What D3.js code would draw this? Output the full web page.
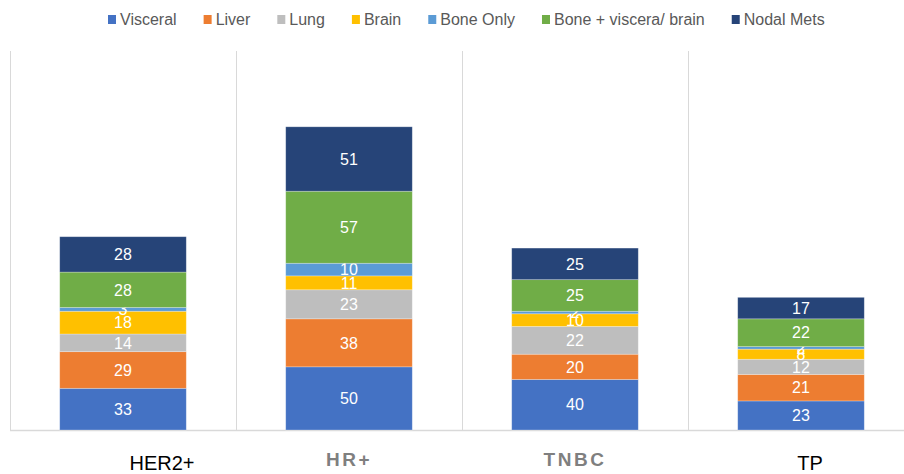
<!DOCTYPE html>
<html>
<head>
<meta charset="utf-8">
<script src="https://cdn.jsdelivr.net/npm/d3@7"></script>
<style>
  body { margin: 0; background: #fff; }
  svg { display: block; }
</style>
</head>
<body>
<script>
var categories = ["HER2+", "HR+", "TNBC", "TP"];
var seriesNames = ["Visceral", "Liver", "Lung", "Brain", "Bone Only", "Bone + viscera/ brain", "Nodal Mets"];
var seriesColors = ["#4472C4", "#ED7D31", "#BEBEBE", "#FFC000", "#5B9BD5", "#70AD47", "#264478"];

var visceral = [33, 50, 40, 23];
var liver = [29, 38, 20, 21];
var lung = [14, 23, 22, 12];
var brain = [18, 11, 10, 8];
var boneOnly = [3, 10, 2, 2];
var boneViscera = [28, 57, 25, 22];
var nodalMets = [28, 51, 25, 17];

// category labels are separate text boxes in the original, a bit off centre
var labelNudge = [39, 0, 0, 9];
var labelBold = [false, true, true, false];

var width = 904, height = 474;
var baseY = 430, topY = 51;

var svg = d3.select("body").append("svg")
    .attr("width", width)
    .attr("height", height);

var rows = categories.map(function (c, i) {
    return {
        cat: c,
        "Visceral": visceral[i],
        "Liver": liver[i],
        "Lung": lung[i],
        "Brain": brain[i],
        "Bone Only": boneOnly[i],
        "Bone + viscera/ brain": boneViscera[i],
        "Nodal Mets": nodalMets[i]
    };
});

var stacked = d3.stack().keys(seriesNames)(rows);

var x = d3.scaleBand().domain(categories).range([10, 914]).padding(0);
var barW = x.bandwidth() * 0.56;
var y = d3.scaleLinear().domain([0, 300]).range([baseY, topY]);
var color = d3.scaleOrdinal().domain(seriesNames).range(seriesColors);

// vertical separators
svg.append("g").selectAll("line")
    .data(categories)
    .enter().append("line")
    .attr("x1", function (d) { return Math.round(x(d)) + 0.5; })
    .attr("x2", function (d) { return Math.round(x(d)) + 0.5; })
    .attr("y1", topY)
    .attr("y2", baseY)
    .attr("stroke", "#d9d9d9")
    .attr("stroke-width", 1);

svg.append("line")
    .attr("x1", 10).attr("x2", width)
    .attr("y1", baseY + 0.5).attr("y2", baseY + 0.5)
    .attr("stroke", "#d9d9d9")
    .attr("stroke-width", 1.5);

var layers = svg.append("g").selectAll("g")
    .data(stacked)
    .enter().append("g")
    .attr("fill", function (d) { return color(d.key); });

layers.selectAll("rect")
    .data(function (d) { return d; })
    .enter().append("rect")
    .attr("x", function (d) { return x(d.data.cat) + (x.bandwidth() - barW) / 2; })
    .attr("y", function (d) { return y(d[1]); })
    .attr("width", barW)
    .attr("height", function (d) { return y(d[0]) - y(d[1]); })
    .attr("stroke", "#ffffff")
    .attr("stroke-opacity", 0.35)
    .attr("stroke-width", 0.75);

layers.selectAll("text")
    .data(function (d) { return d; })
    .enter().append("text")
    .attr("x", function (d) { return x(d.data.cat) + x.bandwidth() / 2; })
    .attr("y", function (d) { return (y(d[0]) + y(d[1])) / 2; })
    .attr("dy", "0.36em")
    .attr("text-anchor", "middle")
    .attr("fill", "#ffffff")
    .style("font-family", "'Liberation Sans', Arial, sans-serif")
    .style("font-size", "16px")
    .text(function (d) { return d[1] - d[0]; });

// category labels
svg.append("g").selectAll("text")
    .data(categories)
    .enter().append("text")
    .attr("x", function (d, i) { return x(d) + x.bandwidth() / 2 + labelNudge[i]; })
    .attr("y", function (d, i) { return labelBold[i] ? 466 : 470; })
    .attr("text-anchor", "middle")
    .style("font-family", "'Liberation Sans', Arial, sans-serif")
    .style("font-size", function (d, i) { return labelBold[i] ? "19px" : "20px"; })
    .style("font-weight", function (d, i) { return labelBold[i] ? "bold" : "normal"; })
    .style("letter-spacing", function (d, i) { return labelBold[i] ? "2.5px" : "0px"; })
    .attr("fill", function (d, i) { return labelBold[i] ? "#7f7f7f" : "#000000"; })
    .text(function (d) { return d; });

// legend
var legend = svg.append("g");
var lx = 108;
seriesNames.forEach(function (name, i) {
    var item = legend.append("g").attr("transform", "translate(" + lx + ",0)");
    item.append("rect")
        .attr("x", 0).attr("y", 15)
        .attr("width", 8).attr("height", 9)
        .attr("fill", seriesColors[i]);
    var t = item.append("text")
        .attr("x", 12).attr("y", 25)
        .style("font-family", "'Liberation Sans', Arial, sans-serif")
        .style("font-size", "16px")
        .attr("fill", "#595959")
        .text(name);
    lx += 12 + t.node().getComputedTextLength() + 27;
});
</script>
</body>
</html>
